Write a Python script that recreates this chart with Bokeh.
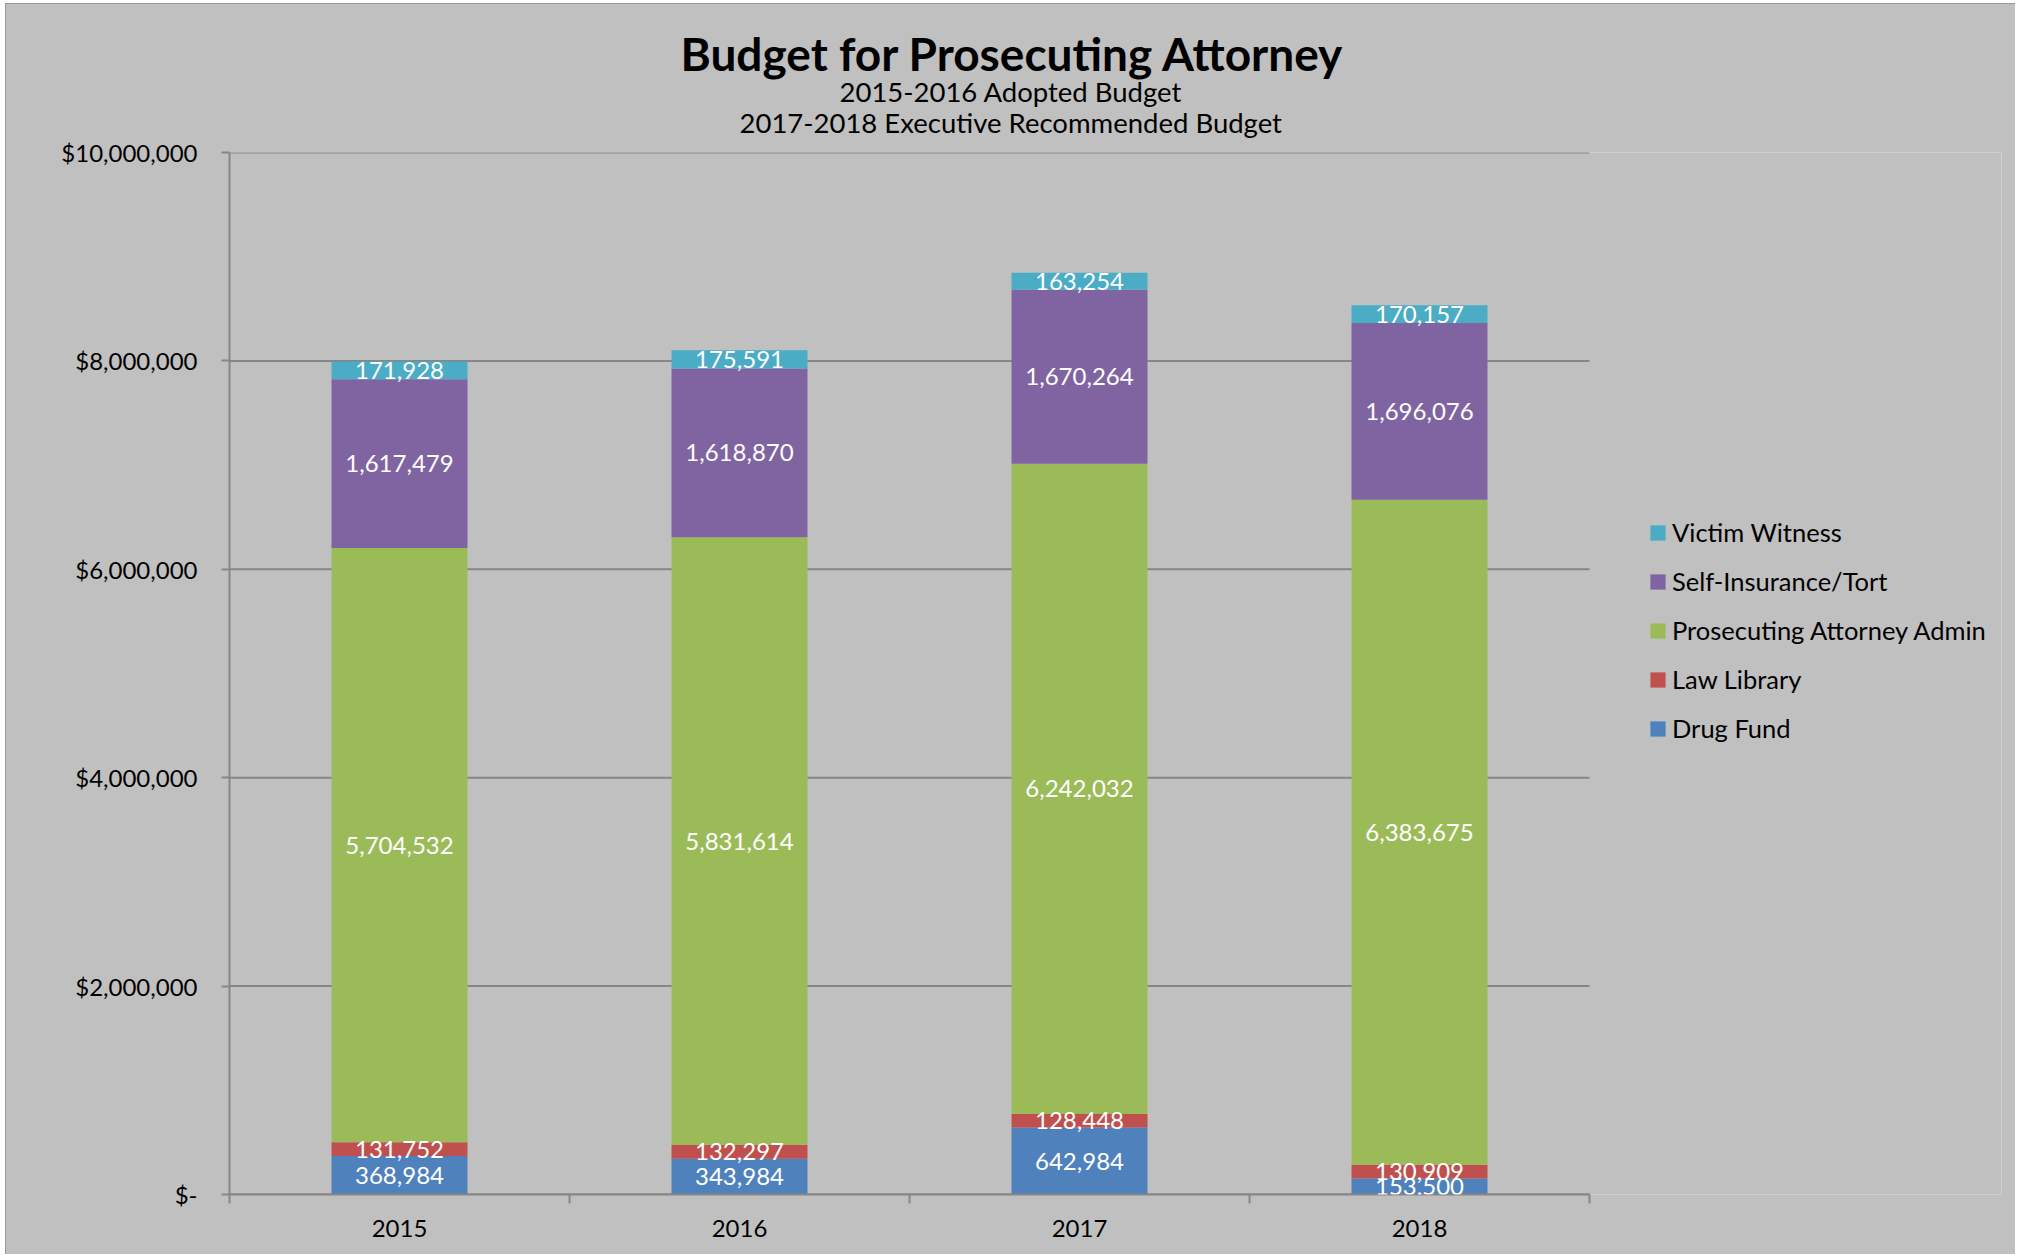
import numpy as np
from bokeh.plotting import figure
from bokeh.models import (ColumnDataSource, FixedTicker, NumeralTickFormatter, Legend,
                          LegendItem, Title, Range1d, LabelSet)
from bokeh.core.properties import value
from bokeh.embed import file_html
from bokeh.resources import INLINE

# ---- data ----
years = ["2015", "2016", "2017", "2018"]
drug_fund = [368984, 343984, 642984, 153500]
law_library = [131752, 132297, 128448, 130909]
pa_admin = [5704532, 5831614, 6242032, 6383675]
self_insurance = [1617479, 1618870, 1670264, 1696076]
victim_witness = [171928, 175591, 163254, 170157]
series_names = ["Drug Fund", "Law Library", "Prosecuting Attorney Admin",
                "Self-Insurance/Tort", "Victim Witness"]
series_values = [drug_fund, law_library, pa_admin, self_insurance, victim_witness]
colors = ["#4F81BD", "#C0504D", "#9BBB59", "#8064A2", "#4BACC6"]
y_ticks = [0, 2000000, 4000000, 6000000, 8000000, 10000000]
title_text = "Budget for Prosecuting Attorney"
subtitle_1 = "2015-2016 Adopted Budget"
subtitle_2 = "2017-2018 Executive Recommended Budget"

FONT = "Lato"
BG = "#C0C0C0"
AXIS_GRAY = "#868686"

# ---- layout constants (pixels) ----
MX, MY = 5, 3                # chart box offset on the page
W, H = 2010, 1251
LEFT, RIGHT_BORDER, TOP, BOTTOM = 224, 14, 149, 60
BARS_RIGHT = 1584            # right end of the category axis (figure coords)
frame_w = W - LEFT - RIGHT_BORDER
n = len(years)
x_end = n * frame_w / (BARS_RIGHT - LEFT)

xs = [i + 0.5 for i in range(n)]
data = {"x": xs}
for name, vals in zip(series_names, series_values):
    data[name] = vals
source = ColumnDataSource(data)

p = figure(width=W, height=H,
           x_range=Range1d(0, x_end), y_range=Range1d(0, 10_000_000),
           output_backend="svg", toolbar_location=None,
           background_fill_color=BG, border_fill_color=BG,
           min_border_left=LEFT, min_border_right=RIGHT_BORDER,
           min_border_top=TOP, min_border_bottom=BOTTOM)
p.margin = (MY, 0, 0, MX)
p.styles = {"outline": "2px solid #8C8C8C", "outline-offset": "-2px"}
p.outline_line_color = None

# horizontal gridlines limited to the category area
p.segment(x0=[0] * len(y_ticks), x1=[n] * len(y_ticks), y0=y_ticks, y1=y_ticks,
          line_color=AXIS_GRAY, line_width=2)
p.ygrid.grid_line_color = None
p.xgrid.grid_line_color = None

renderers = p.vbar_stack(series_names, x="x", width=0.4, source=source,
                         color=colors, line_color=None)

# data labels at segment centres
lx, ly, lt = [], [], []
for i, x in enumerate(xs):
    base = 0
    for vals in series_values:
        v = vals[i]
        lx.append(x)
        ly.append(base + v / 2)
        lt.append(f"{v:,}")
        base += v
lab_src = ColumnDataSource(dict(x=lx, y=ly, t=lt))
labels = LabelSet(x="x", y="y", text="t", source=lab_src,
                  text_align="center", text_baseline="middle",
                  text_color="white", text_font=value(FONT),
                  text_font_size="24px")
p.add_layout(labels)

# axes
p.xaxis.bounds = (0, n)
p.xaxis.ticker = FixedTicker(ticks=xs, minor_ticks=list(range(n + 1)))
p.xaxis.major_label_overrides = {x: y for x, y in zip(xs, years)}
p.xaxis.major_tick_line_color = None
p.xaxis.major_tick_out = 0
p.xaxis.major_tick_in = 0
p.xaxis.minor_tick_line_color = AXIS_GRAY
p.xaxis.minor_tick_line_width = 2
p.xaxis.minor_tick_out = 9
p.xaxis.minor_tick_in = 0
p.xaxis.axis_line_color = AXIS_GRAY
p.xaxis.axis_line_width = 2
p.xaxis.major_label_standoff = 16
p.xaxis.major_label_text_font = FONT
p.xaxis.major_label_text_font_size = "24px"
p.xaxis.major_label_text_color = "black"

p.yaxis.ticker = FixedTicker(ticks=y_ticks)
p.yaxis.formatter = NumeralTickFormatter(format="$0,0")
p.yaxis.major_label_overrides = {0: "$-"}
p.yaxis.minor_tick_line_color = None
p.yaxis.major_tick_line_color = AXIS_GRAY
p.yaxis.major_tick_line_width = 2
p.yaxis.major_tick_out = 8
p.yaxis.major_tick_in = 0
p.yaxis.axis_line_color = AXIS_GRAY
p.yaxis.axis_line_width = 2
p.yaxis.major_label_standoff = 24
p.yaxis.major_label_text_font = FONT
p.yaxis.major_label_text_font_size = "24px"
p.yaxis.major_label_text_color = "black"

# titles (added from closest to the plot outward)
p.add_layout(Title(text=subtitle_2, align="left", offset=510, vertical_align="middle",
                   text_font=FONT, text_font_size="27.5px", text_font_style="normal",
                   text_color="black", standoff=26), "above")
p.add_layout(Title(text=subtitle_1, align="left", offset=610, vertical_align="middle",
                   text_font=FONT, text_font_size="27.5px", text_font_style="normal",
                   text_color="black", standoff=-37), "above")
p.add_layout(Title(text=title_text, align="left", offset=451, vertical_align="middle",
                   text_font=FONT, text_font_size="46px", text_font_style="bold",
                   text_color="black", standoff=19), "above")

# legend (top entry = top of stack)
items = [LegendItem(label=nm, renderers=[r]) for nm, r in zip(series_names, renderers)]
items = items[::-1]
legend = Legend(items=items, location=(1419, 451), orientation="vertical",
                background_fill_alpha=0, border_line_color=None,
                label_text_font=FONT, label_text_font_size="25.5px",
                label_text_color="black", glyph_width=19, glyph_height=19,
                label_standoff=5, spacing=19, padding=0, margin=0)
p.add_layout(legend)

open("out.html", "w").write(file_html(p, INLINE))
